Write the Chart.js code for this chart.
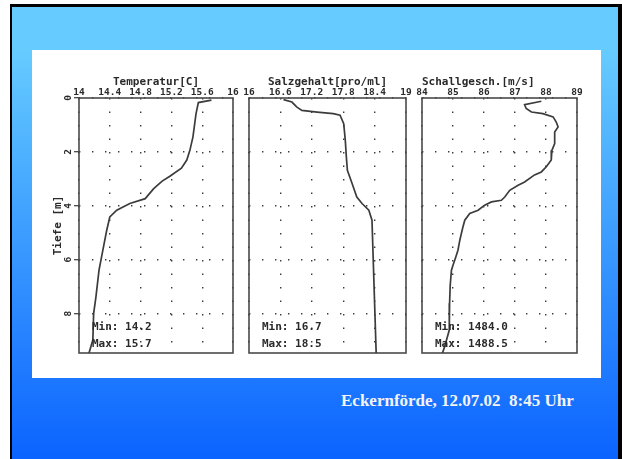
<!DOCTYPE html>
<html>
<head>
<meta charset="utf-8">
<script src="https://cdn.jsdelivr.net/npm/chart.js@4.4.1/dist/chart.umd.min.js"></script>
<style>
  html, body { margin: 0; padding: 0; width: 622px; height: 459px; overflow: hidden; background: #fff; }
  #slide {
    position: absolute; left: 10px; top: 4px; width: 612px; height: 460px;
    box-sizing: border-box; border: 2px solid #000; border-top-width: 3px; border-right-width: 4px; border-bottom: none;
    background: linear-gradient(to bottom, #66ccff 0%, #66ccff 9%, #0a62ff 100%);
  }
  #paper { position: absolute; left: 32px; top: 50px; width: 569px; height: 328px; background: #fff; }
  canvas { position: absolute; }
  #caption {
    position: absolute; left: 341px; top: 391px; white-space: pre;
    font: bold 17px "Liberation Serif", "Times New Roman", serif; line-height: 20px; color: #f4f4f4;
  }
</style>
</head>
<body>
<div id="slide"></div>
<div id="paper"></div>
<canvas id="temp"></canvas>
<canvas id="salt"></canvas>
<canvas id="sound"></canvas>
<div id="caption">Eckernförde, 12.07.02  8:45 Uhr</div>
<script>
// Tiefenachse (alle drei Profile)
const depthTicks = [0, 2, 4, 6, 8];
const depthLabels = ['0', '2', '4', '6', '8'];
const depthMax = 9.45;

// Temperatur [C]
const tempTicks = [14, 14.4, 14.8, 15.2, 15.6, 16];
const tempTickLabels = ['14', '14.4', '14.8', '15.2', '15.6', '16'];
const tempValues = [15.72, 15.55, 15.52, 15.48, 15.44, 15.40, 15.33, 15.18, 15.08, 14.97, 14.86, 14.66, 14.49, 14.40, 14.36, 14.31, 14.26, 14.22, 14.19, 14.18, 14.13];
const tempDepths = [0.08, 0.17, 0.58, 1.44, 1.94, 2.30, 2.60, 2.90, 3.08, 3.36, 3.73, 3.91, 4.16, 4.41, 4.90, 5.64, 6.38, 7.37, 7.99, 8.97, 9.45];

// Salzgehalt [pro/ml]
const saltTicks = [16, 16.6, 17.2, 17.8, 18.4, 19];
const saltTickLabels = ['16', '16.6', '17.2', '17.8', '18.4', '19'];
const saltValues = [16.66, 16.82, 16.91, 17.01, 17.30, 17.61, 17.74, 17.81, 17.84, 17.86, 17.88, 17.97, 18.06, 18.16, 18.29, 18.35, 18.37, 18.39, 18.41, 18.43];
const saltDepths = [0.06, 0.15, 0.33, 0.46, 0.52, 0.58, 0.64, 0.95, 1.57, 2.18, 2.68, 3.17, 3.67, 3.91, 4.16, 4.53, 5.76, 7.00, 8.23, 9.45];

// Schallgeschwindigkeit [m/s]
const soundTicks = [1484, 1485, 1486, 1487, 1488, 1489];
const soundTickLabels = ['84', '85', '86', '87', '88', '89'];
const soundValues = [1487.85, 1487.31, 1487.36, 1487.53, 1487.90, 1488.23, 1488.33, 1488.39, 1488.28, 1488.28, 1488.19, 1488.17, 1488.01, 1487.85, 1487.63, 1487.31, 1487.10, 1486.83, 1486.67, 1486.56, 1486.24, 1486.02, 1485.81, 1485.54, 1485.38, 1485.32, 1485.27, 1485.22, 1485.16, 1485.09, 1485.00, 1484.95, 1484.91, 1484.89, 1484.88, 1484.82, 1484.73, 1484.66];
const soundDepths = [0.12, 0.25, 0.39, 0.52, 0.58, 0.70, 0.89, 1.07, 1.26, 1.69, 1.94, 2.30, 2.55, 2.74, 2.85, 3.11, 3.23, 3.42, 3.67, 3.79, 3.85, 3.97, 4.16, 4.28, 4.53, 4.78, 5.02, 5.27, 5.64, 5.89, 6.20, 6.38, 6.94, 7.61, 8.60, 8.85, 9.22, 9.45];

// Layout (Seitenkoordinaten)
const canvasTop = 60, plotTop = 98, plotBottom = 353;
const ink = '#2a2a2a';
const tickFont = { family: '"DejaVu Sans Mono", monospace', size: 9.5, weight: 'bold' };
const titleFont = { family: '"DejaVu Sans Mono", monospace', size: 11, weight: 'bold' };

// Rahmen um die Plotflaeche
const framePlugin = {
  id: 'frame',
  beforeDatasetsDraw(chart) {
    const { ctx, chartArea: a } = chart;
    ctx.save();
    ctx.strokeStyle = '#4a4a4a';
    ctx.lineWidth = 1.6;
    ctx.strokeRect(a.left, a.top, a.right - a.left, a.bottom - a.top);
    ctx.restore();
  }
};

// Min/Max Beschriftung unten links
const notesPlugin = {
  id: 'notes',
  afterDatasetsDraw(chart, args, opts) {
    const { ctx, chartArea: a } = chart;
    ctx.save();
    ctx.font = 'bold 11px "DejaVu Sans Mono", monospace';
    ctx.fillStyle = ink;
    ctx.textBaseline = 'middle';
    (opts.lines || []).forEach((t, i) => ctx.fillText(t, a.left + 13, a.bottom - 26 + i * 17));
    ctx.restore();
  }
};

function makeProfile(id, p) {
  const el = document.getElementById(id);
  const width = p.plotRight + 10 - p.left;
  const height = plotBottom + 3 - canvasTop;
  el.width = width; el.height = height;
  el.style.left = p.left + 'px'; el.style.top = canvasTop + 'px';
  el.style.width = width + 'px'; el.style.height = height + 'px';

  new Chart(el, {
    type: 'scatter',
    data: {
      datasets: [{
        data: p.values.map((v, i) => ({ x: v, y: p.depths[i] })),
        showLine: true,
        borderColor: '#3c3c3c',
        borderWidth: 1.7,
        pointRadius: 0,
        tension: 0
      }]
    },
    options: {
      responsive: false,
      animation: false,
      layout: { padding: { left: 0, right: 10, top: 0, bottom: 3 } },
      plugins: {
        legend: { display: false },
        tooltip: { enabled: false },
        notes: { lines: p.notes }
      },
      scales: {
        x: {
          type: 'linear', position: 'top',
          min: p.ticks[0], max: p.ticks[p.ticks.length - 1],
          afterBuildTicks: s => { s.ticks = p.ticks.map(v => ({ value: v })); },
          afterFit: s => { s.height = plotTop - canvasTop; },
          ticks: { callback: (v, i) => p.tickLabels[i], font: tickFont, color: ink, padding: 0, maxRotation: 0, autoSkip: false },
          grid: { drawTicks: false, color: '#3a3a3a', lineWidth: 1.4 },
          border: { display: false, dash: [1.4, 12.1] },
          title: { display: true, text: p.title, align: p.titleAlign, font: titleFont, color: ink, padding: { top: 16, bottom: 0 } }
        },
        y: {
          type: 'linear', reverse: true, min: 0, max: depthMax,
          afterBuildTicks: s => { s.ticks = depthTicks.map(v => ({ value: v })); },
          afterFit: s => { s.width = p.plotLeft - p.left; s.paddingTop = 0; s.paddingBottom = 0; },
          ticks: { display: p.showDepth, callback: (v, i) => depthLabels[i], font: tickFont, color: ink,
                   minRotation: 90, maxRotation: 90, labelOffset: -3, padding: 5 },
          grid: { drawTicks: p.showDepth, tickLength: 5, tickColor: '#3a3a3a', tickWidth: 1.2, tickBorderDash: [],
                  color: '#3a3a3a', lineWidth: 1.4 },
          border: { display: false, dash: [1.4, 11.6] },
          title: { display: p.showDepth, text: 'Tiefe [m]', font: titleFont, color: ink, padding: { top: 12, bottom: 0 } }
        }
      }
    },
    plugins: [framePlugin, notesPlugin]
  });
}

makeProfile('temp', {
  left: 40, plotLeft: 79, plotRight: 233, showDepth: true, titleAlign: 'center',
  title: 'Temperatur[C]', ticks: tempTicks, tickLabels: tempTickLabels,
  values: tempValues, depths: tempDepths, notes: ['Min: 14.2', 'Max: 15.7']
});
makeProfile('salt', {
  left: 239, plotLeft: 249, plotRight: 406, showDepth: false, titleAlign: 'center',
  title: 'Salzgehalt[pro/ml]', ticks: saltTicks, tickLabels: saltTickLabels,
  values: saltValues, depths: saltDepths, notes: ['Min: 16.7', 'Max: 18.5']
});
makeProfile('sound', {
  left: 412, plotLeft: 422, plotRight: 577, showDepth: false, titleAlign: 'start',
  title: 'Schallgesch.[m/s]', ticks: soundTicks, tickLabels: soundTickLabels,
  values: soundValues, depths: soundDepths, notes: ['Min: 1484.0', 'Max: 1488.5']
});
</script>
</body>
</html>
